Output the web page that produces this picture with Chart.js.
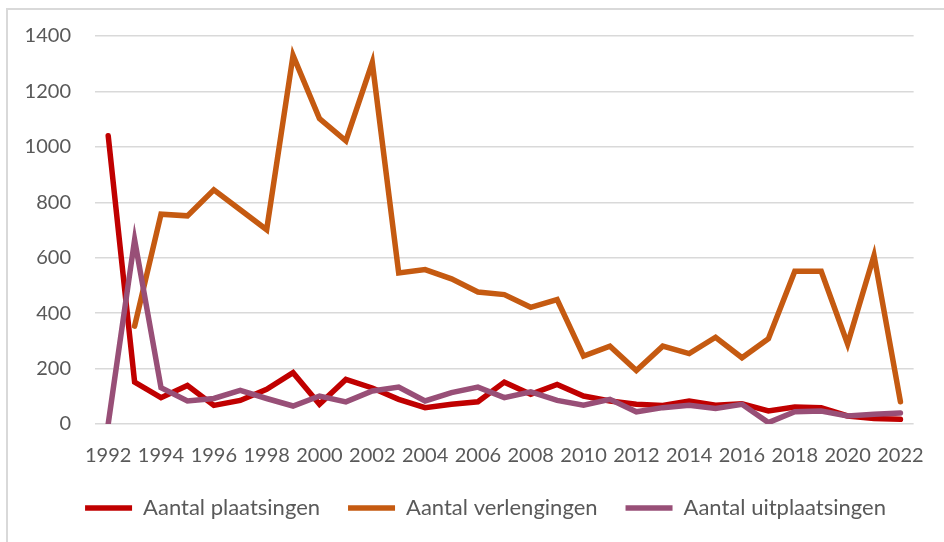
<!DOCTYPE html>
<html>
<head>
<meta charset="utf-8">
<script src="https://cdn.jsdelivr.net/npm/chart.js@4/dist/chart.umd.min.js"></script>
<style>
  html, body { margin: 0; padding: 0; background: #ffffff; }
  #wrap { position: relative; width: 944px; height: 542px; overflow: hidden; }
  #frame { position: absolute; left: 6px; top: 8px; width: 960px; height: 560px;
           border-left: 2px solid #d9d9d9; border-top: 2px solid #d9d9d9; }
  canvas { position: absolute; left: 0; top: 0; }
</style>
</head>
<body>
<div id="wrap">
  <div id="frame"></div>
  <canvas id="c" width="944" height="542"></canvas>
</div>
<script>
const years = [1992,1993,1994,1995,1996,1997,1998,1999,2000,2001,2002,2003,2004,2005,2006,2007,
               2008,2009,2010,2011,2012,2013,2014,2015,2016,2017,2018,2019,2020,2021,2022];
const plaatsingen = [1040,151,95,139,67,85,125,185,71,161,130,89,59,71,80,151,
                     107,143,101,83,71,67,83,68,73,47,61,59,29,20,17];
const verlengingen = [null,353,757,751,845,773,701,1330,1102,1022,1304,545,557,524,476,467,
                      421,449,245,281,193,281,254,313,239,308,551,551,289,608,80];
const uitplaatsingen = [0,665,131,83,92,121,92,65,101,80,119,133,83,113,133,95,
                        116,85,68,89,44,59,68,56,71,5,44,47,29,35,40];
const seriesNames = ['Aantal plaatsingen','Aantal verlengingen','Aantal uitplaatsingen'];
const yTicks = [0,200,400,600,800,1000,1200,1400];

const FONT = 'Lato, "Liberation Sans", sans-serif';
const TXT = '#595959';

const shiftLegend = {
  id: 'shiftLegend',
  afterLayout(chart) { if (chart.legend) { chart.legend.left += 24; } }
};

new Chart(document.getElementById('c'), {
  type: 'line',
  data: {
    labels: years.map(String),
    datasets: [
      { label: seriesNames[0], data: plaatsingen, borderColor: '#C00000', backgroundColor: '#C00000',
        borderWidth: 5.5, pointRadius: 0, order: 2, tension: 0, borderCapStyle: 'round' },
      { label: seriesNames[1], data: verlengingen, borderColor: '#C55A11', backgroundColor: '#C55A11',
        borderWidth: 5.5, pointRadius: 0, order: 1, tension: 0, borderCapStyle: 'round' },
      { label: seriesNames[2], data: uitplaatsingen, borderColor: '#984F77', backgroundColor: '#984F77',
        borderWidth: 5.5, pointRadius: 0, order: 0, tension: 0, borderCapStyle: 'round' }
    ]
  },
  plugins: [shiftLegend],
  options: {
    responsive: false,
    animation: false,
    devicePixelRatio: 1,
    layout: { padding: { left: 26, right: 23, top: 32, bottom: 13 } },
    scales: {
      x: {
        offset: true,
        afterFit: (axis) => { axis.height = 45; },
        grid: { display: false, drawTicks: false },
        border: { display: false },
        ticks: {
          autoSkip: false, maxRotation: 0, minRotation: 0, padding: 20,
          color: TXT, font: { family: FONT, size: 20 },
          callback: function(v, i) { return i % 2 === 0 ? this.getLabelForValue(v) : ''; }
        }
      },
      y: {
        min: 0, max: 1400,
        afterBuildTicks: (axis) => { axis.ticks = yTicks.map(v => ({ value: v })); },
        afterFit: (axis) => { axis.width = 69; },
        grid: { color: '#d9d9d9', lineWidth: 1.5, drawTicks: false },
        border: { display: false },
        ticks: { padding: 24, color: TXT, font: { family: FONT, size: 20 },
                 callback: (v) => String(v) }
      }
    },
    plugins: {
      legend: {
        position: 'bottom',
        labels: {
          usePointStyle: true, pointStyle: 'line', pointStyleWidth: 47,
          padding: 28, color: TXT, font: { family: FONT, size: 22 },
          sort: (a, b) => a.datasetIndex - b.datasetIndex
        }
      },
      tooltip: { enabled: false }
    }
  }
});
</script>
</body>
</html>
